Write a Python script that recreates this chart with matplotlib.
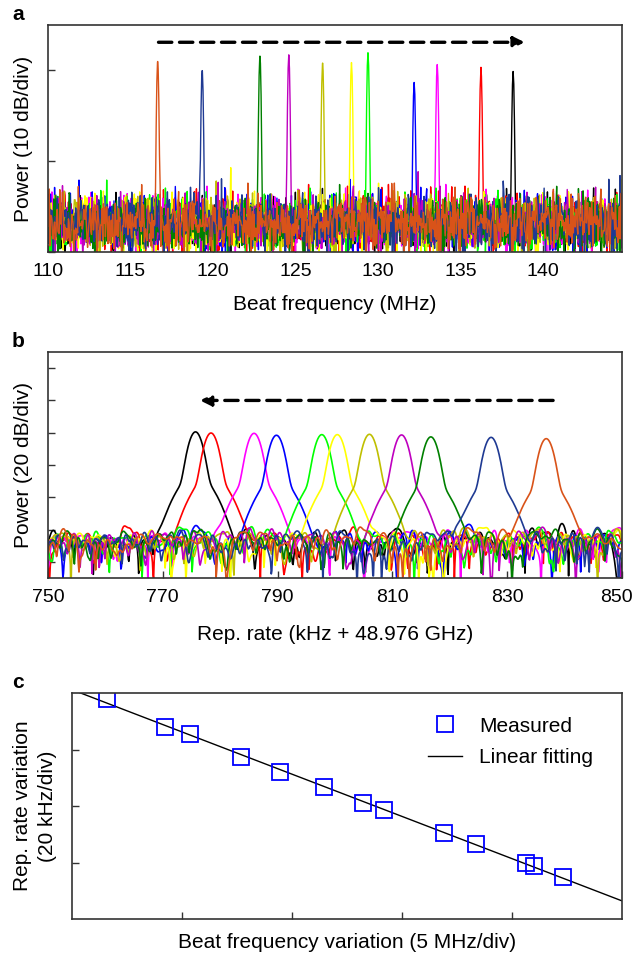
import numpy as np
import matplotlib
matplotlib.use("Agg")
import matplotlib.pyplot as plt
from matplotlib.transforms import ScaledTranslation

plt.rcParams['font.family'] = ['Liberation Sans', 'DejaVu Sans']
plt.rcParams['font.size'] = 15

# trace colours, left-to-right order of the beat notes in panel a
colors = ['#D95319', '#1F3A93', '#008000', '#BF00BF', '#BFBF00', '#FFFF00',
          '#00FF00', '#0000FF', '#FF00FF', '#FF0000', '#000000']

# panel a: beat note centre (MHz) and peak level (dB)
a_peak_freq = [116.65, 119.35, 122.85, 124.6, 126.65, 128.4, 129.4, 132.2, 133.6, 136.25, 138.2]
a_peak_db = [-69.1, -70.1, -68.5, -68.4, -69.3, -69.2, -68.1, -71.5, -69.45, -69.9, -70.3]
a_floor_db = -86.8

# panel b: rep-rate peak (kHz offset from 48.976 GHz) and peak level (dB)
b_peak_rate = [836.8, 827.2, 816.7, 811.6, 806.0, 800.4, 797.7, 789.8, 785.9, 778.4, 775.7]
b_peak_db = [-23.7, -22.9, -22.6, -21.4, -21.0, -21.2, -21.2, -21.6, -20.4, -20.2, -19.5]
b_floor_db = -86.0

# panel c: measured beat frequency (MHz) vs rep rate (kHz)
c_beat = [116.61, 119.26, 120.38, 122.71, 124.47, 126.48, 128.24, 129.20,
          131.93, 133.36, 135.62, 136.01, 137.31]
c_rep = [837.8, 828.1, 825.5, 817.5, 812.2, 806.7, 801.1, 798.5,
         790.4, 786.4, 779.7, 778.7, 775.0]

# noise floor texture only (not measured values)
rng = np.random.default_rng(7)

fig = plt.figure(figsize=(6.33, 9.55), dpi=100)
ax_a = fig.add_axes([0.0758, 0.7361, 0.9068, 0.2377])
ax_b = fig.add_axes([0.0758, 0.3948, 0.9068, 0.2366])
ax_c = fig.add_axes([0.1130, 0.0377, 0.8696, 0.2366])

arrow_kw = dict(arrowstyle='-|>', ls=(0, (4, 2.3)), lw=2.4, color='black',
                mutation_scale=16, shrinkA=0, shrinkB=0)

# ---- panel a
for i in reversed(range(len(colors))):
    f = np.union1d(np.arange(110, 145, 0.04), [a_peak_freq[i]])
    noise = a_floor_db + 1.5 * rng.standard_normal(len(f))
    peak = a_peak_db[i] - 900 * (f - a_peak_freq[i]) ** 2
    trace = 10 * np.log10(10 ** (noise / 10) + 10 ** (peak / 10))
    ax_a.plot(f, trace, color=colors[i], lw=1.0)
ax_a.set_xlim(110, 144.8)
ax_a.set_ylim(-90, -65)
ax_a.set_xticks([110, 115, 120, 125, 130, 135, 140])
ax_a.set_yticks([-90, -80, -70])
ax_a.set_yticklabels([])
ax_a.set_xlabel('Beat frequency (MHz)', va='center')
ax_a.xaxis.set_label_coords(0.5, -0.233)
ax_a.set_ylabel('Power (10 dB/div)', va='center')
ax_a.yaxis.set_label_coords(-0.043, 0.5)
ax_a.annotate('', xy=(138.9, -66.9), xytext=(116.7, -66.9), arrowprops=arrow_kw)

# ---- panel b
for i in reversed(range(len(colors))):
    r = np.arange(750, 850.05, 0.1)
    z = rng.standard_normal(len(r)) + 1j * rng.standard_normal(len(r))
    k = np.exp(-0.5 * (np.arange(-20, 21) / 5.0) ** 2)
    z = np.convolve(z, k, mode='same')
    p = np.abs(z) ** 2
    noise = b_floor_db + 10 * np.log10(p / p.mean())
    d = r - b_peak_rate[i]
    main = b_peak_db[i] - 5.5 * d ** 2
    pedestal = b_peak_db[i] - 27 - 0.9 * d ** 2
    trace = 10 * np.log10(10 ** (noise / 10) + 10 ** (main / 10) + 10 ** (pedestal / 10))
    ax_b.plot(r, trace, color=colors[i], lw=1.2)
ax_b.set_xlim(750, 850)
ax_b.set_ylim(-110, 30)
ax_b.set_xticks([750, 770, 790, 810, 830, 850])
ax_b.set_yticks([-100, -80, -60, -40, -20, 0, 20])
ax_b.set_yticklabels([])
ax_b.set_xlabel('Rep. rate (kHz + 48.976 GHz)', va='center')
ax_b.xaxis.set_label_coords(0.5, -0.248)
ax_b.set_ylabel('Power (20 dB/div)', va='center')
ax_b.yaxis.set_label_coords(-0.043, 0.5)
ax_b.annotate('', xy=(776.5, 0), xytext=(838, 0), arrowprops=arrow_kw)

# ---- panel c
slope, icpt = np.polyfit(c_beat, c_rep, 1)
xf = np.array([115, 140])
ax_c.plot(xf, slope * xf + icpt, color='black', lw=1.0, label='Linear fitting')
ax_c.plot(c_beat, c_rep, 's', ms=11, mfc='none', mec='#0000FF', mew=1.3,
          label='Measured')
ax_c.set_xlim(115, 140)
ax_c.set_ylim(760, 840)
ax_c.set_xticks([120, 125, 130, 135])
ax_c.set_yticks([780, 800, 820])
ax_c.set_xticklabels([])
ax_c.set_yticklabels([])
ax_c.set_xlabel('Beat frequency variation (5 MHz/div)', va='center')
ax_c.xaxis.set_label_coords(0.5, -0.106)
ax_c.set_ylabel('Rep. rate variation\n(20 kHz/div)', va='center', linespacing=1.4)
ax_c.yaxis.set_label_coords(-0.067, 0.5)
h, l = ax_c.get_legend_handles_labels()
ax_c.legend(h[::-1], l[::-1], loc='upper left', bbox_to_anchor=(0.648, 0.895),
            frameon=False, handlelength=1.6, handletextpad=0.85, labelspacing=0.6,
            borderpad=0, borderaxespad=0)

for ax in (ax_a, ax_b, ax_c):
    ax.tick_params(direction='in', length=5, width=1, pad=8, color='#333333',
                   labelsize=14)
    for s in ax.spines.values():
        s.set_linewidth(1.2)
        s.set_color('#333333')

# keep the last rep-rate label inside the figure
fig.canvas.draw()
last = ax_b.get_xticklabels()[-1]
last.set_transform(last.get_transform() + ScaledTranslation(-6 / 100, 0, fig.dpi_scale_trans))

for ax, lab in ((ax_a, 'a'), (ax_b, 'b'), (ax_c, 'c')):
    bb = ax.get_position()
    fig.text(0.019, bb.y1 + 0.001, lab, fontsize=15, fontweight='bold', va='bottom')

fig.savefig('out.png', dpi=100)
